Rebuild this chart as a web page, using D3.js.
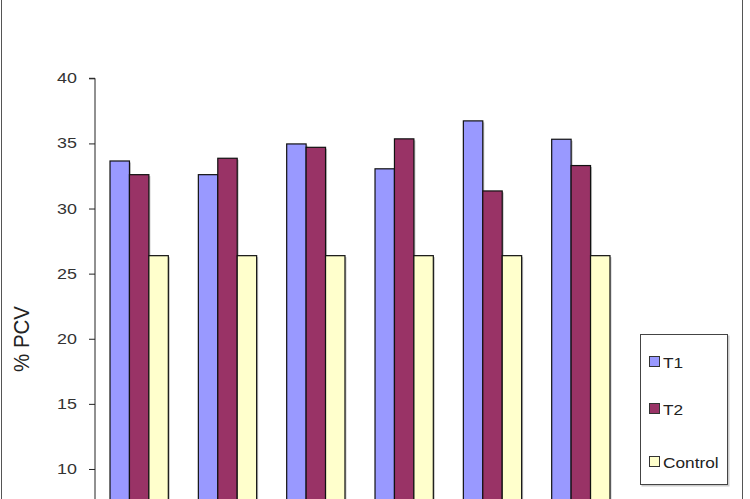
<!DOCTYPE html>
<html><head><meta charset="utf-8">
<script src="https://cdn.jsdelivr.net/npm/d3@7"></script>
<style>body{margin:0;background:#fff;}svg{display:block;}</style>
</head><body>
<svg id="c" width="750" height="499"></svg>
<script>
const categories = ["1", "2", "3", "4", "5", "6"];
const seriesNames = ["T1", "T2", "Control"];
const t1 = [33.65, 32.6, 34.96, 33.05, 36.73, 35.32];
const t2 = [32.6, 33.86, 34.7, 35.35, 31.35, 33.3];
const control = [26.38, 26.38, 26.38, 26.38, 26.38, 26.38];
const yTicks = [10, 15, 20, 25, 30, 35, 40];
const colors = ["#9999FF", "#993366", "#FFFFCC"];
const FONT = "Liberation Sans, Arial, sans-serif";

const svg = d3.select("#c");
svg.append("rect").attr("x", 1.5).attr("y", -5).attr("width", 741).attr("height", 520)
  .attr("fill", "#fff").attr("stroke", "#555").attr("stroke-width", 1);

const x0 = d3.scaleBand().domain(categories).range([95, 625]).paddingInner(0.34).paddingOuter(0.17);
const x1 = d3.scaleBand().domain(seriesNames).range([0, x0.bandwidth()]);
const y = d3.scaleLinear().domain([0, 40]).range([599.2, 78.3]);

const data = categories.map((c, i) => ({c, vals: [t1[i], t2[i], control[i]]}));

const yAxis = d3.axisLeft(y).tickValues(yTicks).tickSize(6).tickPadding(5);
const ga = svg.append("g").attr("transform", "translate(95,0)").call(yAxis);
ga.select(".domain").attr("stroke", "#222").attr("d", `M-6,${y(40)}H0V${y(0)}`);
ga.selectAll(".tick line").attr("stroke", "#222");
ga.selectAll(".tick text").attr("font-family", FONT)
  .attr("font-size", 14).attr("fill", "#333")
  .attr("x", 0).attr("transform", "translate(-18,0) scale(1.28,1)");

const g = svg.append("g");
data.forEach(d => {
  seriesNames.forEach((s, j) => {
    g.append("rect")
      .attr("x", x0(d.c) + x1(s) + 1.5)
      .attr("y", y(d.vals[j]) + 1.5)
      .attr("width", x1.bandwidth())
      .attr("height", y(0) - y(d.vals[j]))
      .attr("fill", "#999").attr("opacity", 0.6);
    g.append("rect")
      .attr("x", x0(d.c) + x1(s))
      .attr("y", y(d.vals[j]))
      .attr("width", x1.bandwidth())
      .attr("height", y(0) - y(d.vals[j]))
      .attr("fill", colors[j]).attr("stroke", "#111").attr("stroke-width", 1.2);
  });
});

// axis label
svg.append("text").attr("transform", "translate(29,339) rotate(-90) scale(1,1.1)")
  .attr("text-anchor", "middle").attr("font-family", FONT)
  .attr("font-size", 20.5).attr("fill", "#222").text("% PCV");

// legend
const lg = svg.append("g");
lg.append("rect").attr("x", 641.5).attr("y", 335.5).attr("width", 88).attr("height", 151)
  .attr("fill", "#999").attr("opacity", 0.5);
lg.append("rect").attr("x", 640.5).attr("y", 334.5).attr("width", 87).attr("height", 150)
  .attr("fill", "#fff").attr("stroke", "#444");
const ly = [362, 409, 462];
seriesNames.forEach((s, j) => {
  lg.append("rect").attr("x", 649.5).attr("y", ly[j] - 5.5).attr("width", 10).attr("height", 10)
    .attr("fill", colors[j]).attr("stroke", "#333").attr("stroke-width", 1);
  lg.append("text").attr("transform", `translate(663,${ly[j] + 5.5}) scale(1.15,1)`)
    .attr("font-family", FONT).attr("font-size", 15)
    .attr("fill", "#222").text(s);
});
</script>
</body></html>
